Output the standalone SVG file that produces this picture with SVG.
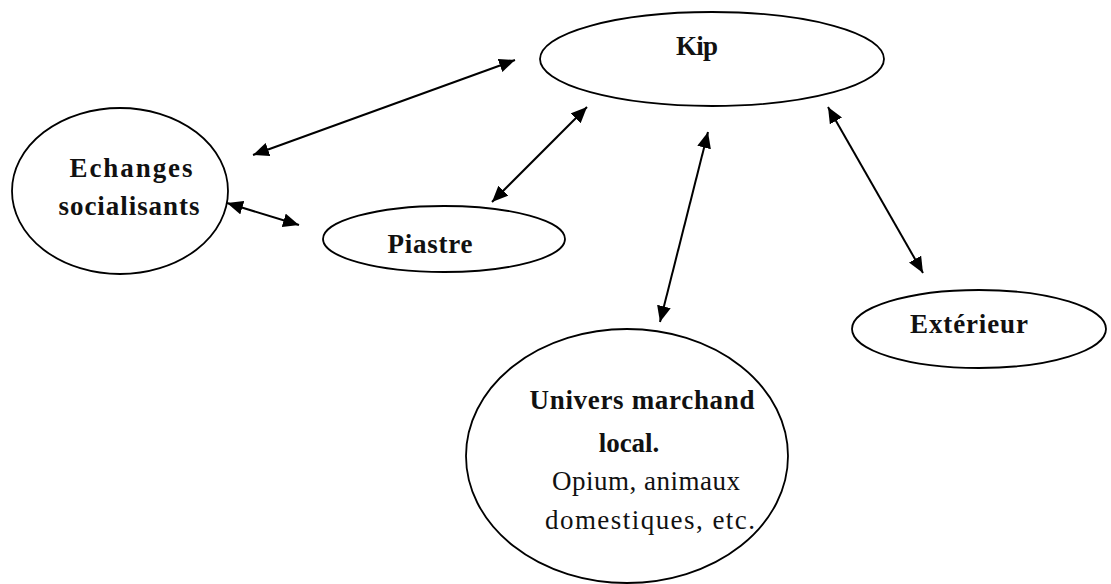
<svg xmlns="http://www.w3.org/2000/svg" width="1111" height="584" viewBox="0 0 1111 584">
<style>
.n{fill:#fff;stroke:#000;stroke-width:1.8}
text{font-family:'Liberation Serif','DejaVu Serif',serif;font-size:27px;fill:#111;text-anchor:middle}
.b{font-weight:bold}
.c line{stroke:#000;stroke-width:2;marker-start:url(#a);marker-end:url(#a)}
</style>
<defs>
<marker id="a" viewBox="0 0 10 10" refX="10" refY="5" markerWidth="16" markerHeight="14" markerUnits="userSpaceOnUse" orient="auto-start-reverse" preserveAspectRatio="none">
<path d="M0,0L10,5L0,10z" fill="#000"/>
</marker>
</defs>
<rect width="1111" height="584" fill="#fff"/>
<g id="echanges"><ellipse class="n" cx="120" cy="191" rx="108" ry="83"/>
<text class="b" x="131" y="177" textLength="123">Echanges</text><text class="b" x="129" y="215" textLength="141">socialisants</text></g>
<g id="kip"><ellipse class="n" cx="712" cy="59" rx="172" ry="47"/>
<text class="b" x="697" y="55" textLength="42">Kip</text></g>
<g id="piastre"><ellipse class="n" cx="444" cy="239" rx="121" ry="33"/>
<text class="b" x="430" y="253" textLength="85">Piastre</text></g>
<g id="exterieur"><ellipse class="n" cx="979" cy="329" rx="127" ry="39"/>
<text class="b" x="969" y="333" textLength="118">Extérieur</text></g>
<g id="univers"><ellipse class="n" cx="627" cy="456" rx="161" ry="127"/>
<text class="b" x="642" y="409" textLength="225">Univers marchand</text>
<text class="b" x="629" y="452">local.</text>
<text x="646" y="490" textLength="188">Opium, animaux</text>
<text x="650" y="529" textLength="210">domestiques, etc.</text></g>
<g class="c" id="connectors">
<line x1="253" y1="155" x2="515" y2="60"/>
<line x1="227" y1="203" x2="299" y2="225"/>
<line x1="492" y1="202" x2="587" y2="107"/>
<line x1="660" y1="322" x2="708" y2="132"/>
<line x1="828" y1="107" x2="923" y2="273"/>
</g>
</svg>
